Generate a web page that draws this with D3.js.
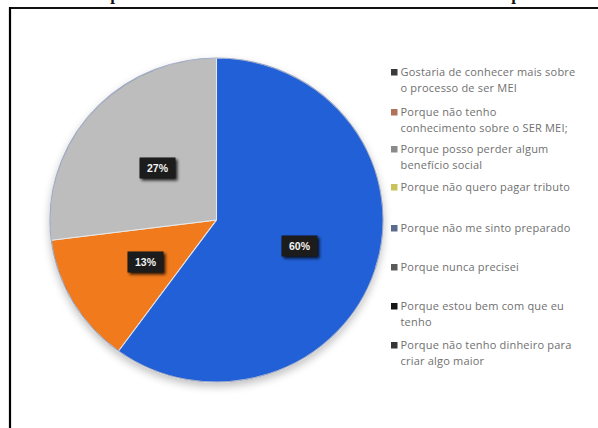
<!DOCTYPE html>
<html>
<head>
<meta charset="utf-8">
<script src="https://cdn.jsdelivr.net/npm/d3@7"></script>
<style>
  html, body { margin: 0; padding: 0; background: #fff; }
  svg { display: block; }
</style>
</head>
<body>
<svg id="chart" width="598" height="428"></svg>
<script>
// Reasons for not formalising as MEI (shares of respondents)
const categories = [
  "Gostaria de conhecer mais sobre o processo de ser MEI",
  "Porque não tenho conhecimento sobre o SER MEI;",
  "Porque posso perder algum benefício social",
  "Porque não quero pagar tributo",
  "Porque não me sinto preparado",
  "Porque nunca precisei",
  "Porque estou bem com que eu tenho",
  "Porque não tenho dinheiro para criar algo maior"
];
const legendLines = [
  ["Gostaria de conhecer mais sobre", "o processo de ser MEI"],
  ["Porque não tenho", "conhecimento sobre o SER MEI;"],
  ["Porque posso perder algum", "benefício social"],
  ["Porque não quero pagar tributo"],
  ["Porque não me sinto preparado"],
  ["Porque nunca precisei"],
  ["Porque estou bem com que eu", "tenho"],
  ["Porque não tenho dinheiro para", "criar algo maior"]
];
const values = [0, 13, 27, 0, 60, 0, 0, 0];
const sliceColors = ["#26324f", "#f07a1f", "#bdbdbd", "#e6c31c", "#2461d8", "#5f6b5a", "#1c1c1c", "#3a3030"];
const markerColors = ["#3a3a3a", "#b0735a", "#8a8a8a", "#c9c25a", "#5a6b8e", "#5a5a5a", "#151515", "#363636"];
const legendRowY = [76, 116, 153, 191, 232, 271, 310, 349];

const svg = d3.select("#chart");

// Frame lines and the heading clipped above the frame
svg.append("line").attr("x1", 9).attr("x2", 598).attr("y1", 8).attr("y2", 8)
  .attr("stroke", "#111").attr("stroke-width", 2);
svg.append("line").attr("x1", 10).attr("x2", 10).attr("y1", 7).attr("y2", 428)
  .attr("stroke", "#000").attr("stroke-width", 2.2);
[115, 516].forEach(x => {
  svg.append("text").attr("x", x).attr("y", 0).attr("text-anchor", "middle")
    .attr("font-family", "Liberation Serif, serif").attr("font-weight", "bold")
    .attr("font-size", 17).attr("fill", "#111").text("p");
});

const cx = 216.5, cy = 220, r = 162;

const defs = svg.append("defs");
const shadow = defs.append("filter").attr("id", "pieShadow")
  .attr("x", "-20%").attr("y", "-20%").attr("width", "140%").attr("height", "140%");
shadow.append("feGaussianBlur").attr("in", "SourceAlpha").attr("stdDeviation", 4);
shadow.append("feOffset").attr("dx", 0).attr("dy", 4).attr("result", "b");
shadow.append("feComponentTransfer").append("feFuncA").attr("type", "linear").attr("slope", 0.25);
const m = shadow.append("feMerge");
m.append("feMergeNode");
m.append("feMergeNode").attr("in", "SourceGraphic");

const labelShadow = defs.append("filter").attr("id", "lblShadow")
  .attr("x", "-40%").attr("y", "-60%").attr("width", "180%").attr("height", "220%");
labelShadow.append("feGaussianBlur").attr("in", "SourceAlpha").attr("stdDeviation", 1.6);
labelShadow.append("feOffset").attr("dx", 1.5).attr("dy", 1.5);
labelShadow.append("feComponentTransfer").append("feFuncA").attr("type", "linear").attr("slope", 0.8);
const m2 = labelShadow.append("feMerge");
m2.append("feMergeNode");
m2.append("feMergeNode").attr("in", "SourceGraphic");

// Pie: the largest slice starts at 12 o'clock
const startOffset = -2 * Math.PI * (values[1] + values[2]) / 100;
const pie = d3.pie().sort(null).value(d => d)
  .startAngle(startOffset).endAngle(startOffset + 2 * Math.PI);
const arcs = pie(values);
const arc = d3.arc().innerRadius(0).outerRadius(r);

const g = svg.append("g").attr("transform", `translate(${cx},${cy})`);
const pieG = g.append("g").attr("transform", "scale(1.028,1)");
pieG.append("g").attr("filter", "url(#pieShadow)")
  .selectAll("path").data(arcs.filter(d => d.value > 0)).join("path")
  .attr("d", arc)
  .attr("fill", d => sliceColors[d.index])
  .attr("stroke", "#e8e8e8").attr("stroke-width", 1);
pieG.append("circle").attr("r", r).attr("fill", "none")
  .attr("stroke", "#1f3f8a").attr("stroke-opacity", 0.35).attr("stroke-width", 1.2);

// Percentage labels in dark boxes
const labelArc = d3.arc().innerRadius(r * 0.5).outerRadius(r * 0.62);
const labelPos = { 1: [-71, 42], 2: [-59, -52], 4: [83, 26] };
arcs.filter(d => d.value > 0).forEach(d => {
  const [lx, ly] = labelPos[d.index] || labelArc.centroid(d);
  const lg = g.append("g").attr("transform", `translate(${lx},${ly})`);
  lg.append("rect").attr("x", -18).attr("y", -10.5).attr("width", 36).attr("height", 21)
    .attr("fill", "#1d1d1d").attr("filter", "url(#lblShadow)");
  lg.append("text").attr("text-anchor", "middle").attr("dy", "0.35em")
    .attr("font-family", "Liberation Sans, Arial, sans-serif").attr("font-weight", "bold")
    .attr("font-size", 10.5).attr("fill", "#f2f2f2")
    .text(d3.format(".0%")(d.value / 100));
});

// Legend
const legend = svg.append("g");
categories.forEach((c, i) => {
  const row = legend.append("g").attr("transform", `translate(391,${legendRowY[i]})`);
  row.append("rect").attr("x", 0).attr("y", -7).attr("width", 6.5).attr("height", 6.5)
    .attr("fill", markerColors[i]);
  legendLines[i].forEach((t, j) => {
    row.append("text").attr("x", 9.5).attr("y", j * 15.5)
      .attr("font-family", "Open Sans, Liberation Sans, sans-serif")
      .attr("font-size", 11).attr("letter-spacing", 0.2).attr("fill", "#707070").text(t);
  });
});
</script>
</body>
</html>
